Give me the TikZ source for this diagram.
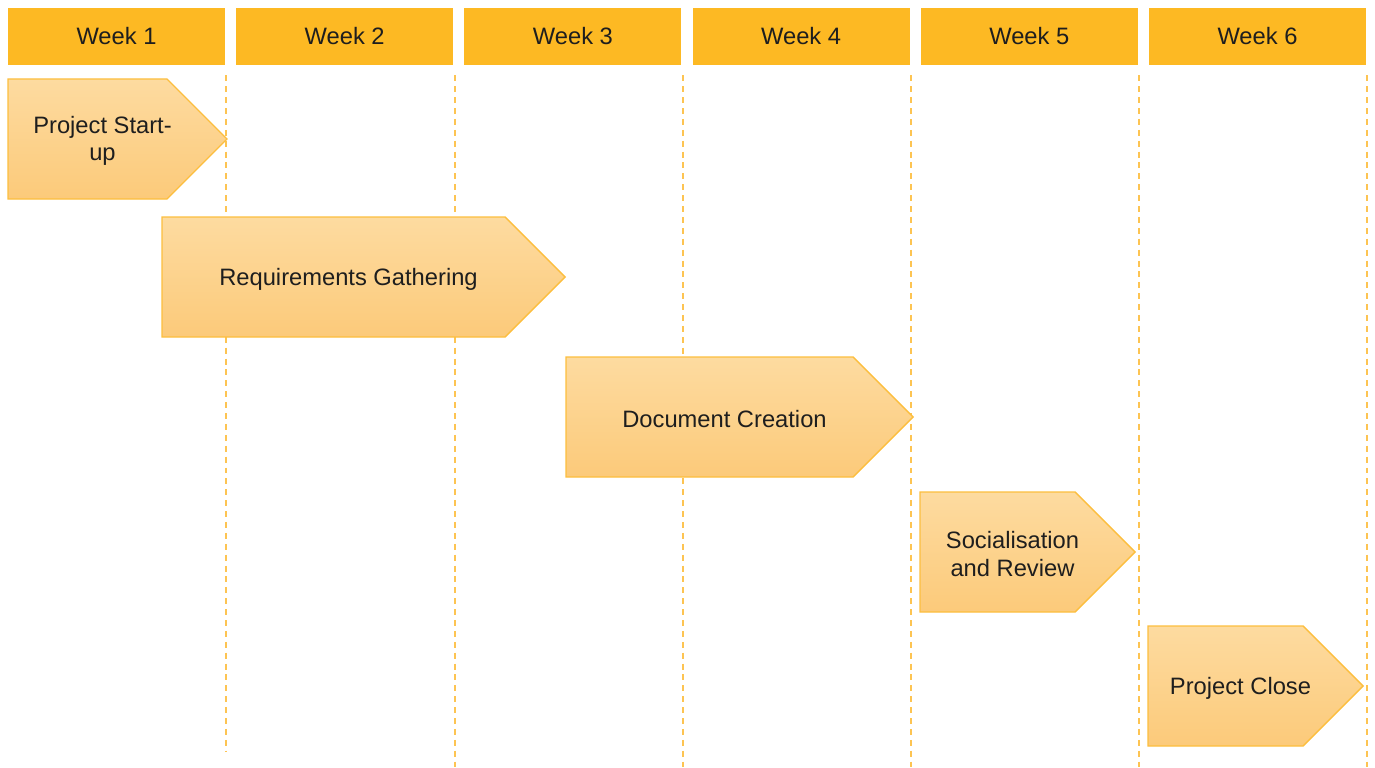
\documentclass[tikz,border=0pt]{standalone}
\usepackage{fontspec}
\setmainfont{Liberation Sans}
\usepackage{tikz}
\usetikzlibrary{arrows.meta,calc,positioning}

\definecolor{weekorange}{RGB}{253,185,35}
\definecolor{tasktop}{RGB}{253,219,160}
\definecolor{taskbottom}{RGB}{252,202,122}
\definecolor{taskedge}{RGB}{252,190,62}
\definecolor{gridorange}{RGB}{253,196,82}
\definecolor{labelink}{RGB}{30,30,30}

% task bar: name, left x, top y, body right x, label
\newcommand{\taskbar}[5]{%
    \path[taskfill] (#2,#3) -- (#4,#3) -- ({#4+60},{#3+60}) -- (#4,{#3+120}) -- (#2,{#3+120}) -- cycle;
    \node[tasklabel] (#1) at ({(#2+#4+30)/2},{#3+62}) {#5};
}

\begin{document}
\begin{tikzpicture}[
    x=0.02cm, y=-0.02cm,
    font=\fontsize{13.5}{15.5}\selectfont,
    week/.style={fill=weekorange, text=labelink, minimum width=4.34cm, minimum height=1.14cm, inner sep=0pt, text height=0.9em, text depth=0pt},
    gridline/.style={draw=gridorange, line width=1.1pt, dash pattern=on 3.4pt off 2.8pt},
    taskfill/.style={top color=tasktop, bottom color=taskbottom, draw=taskedge, line width=0.8pt},
    tasklabel/.style={text=labelink, align=center, inner sep=0pt}
]
    \useasboundingbox (0,0) rectangle (1375,767);

    % week headers and separators
    \foreach \i/\e in {1/752,2/767,3/767,4/767,5/767,6/767} {
        \node[week] (w\i) at ({116.5+228.2*(\i-1)},36.5) {Week \i};
        \coordinate (g\i) at ($(w\i.south east)+(1,\e-65)$);
        \draw[gridline] ($(w\i.south east)+(1,10)$) -- (g\i);
    }

    % tasks
    \taskbar{start}{8}{79}{167}{Project Start-\\up}
    \taskbar{req}{162}{217}{505}{Requirements Gathering}
    \taskbar{doc}{566}{357}{853}{Document Creation}
    \taskbar{review}{920}{492}{1075}{Socialisation\\and Review}
    \taskbar{close}{1148}{626}{1303}{Project Close}
\end{tikzpicture}
\end{document}
